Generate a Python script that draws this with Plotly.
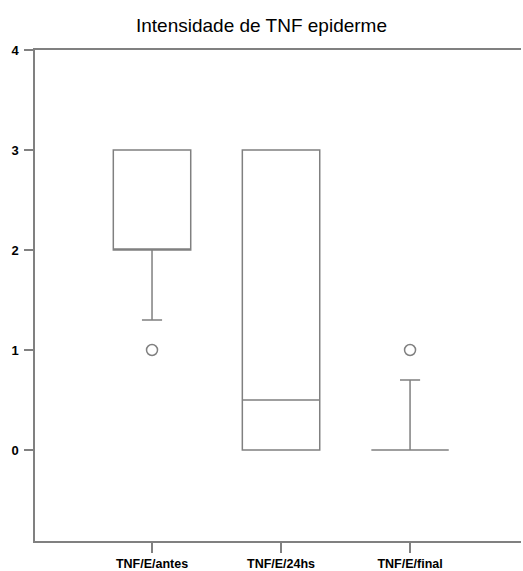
import plotly.graph_objects as go

categories = ["TNF/E/antes", "TNF/E/24hs", "TNF/E/final"]
q1 = [2.0, 0.0, 0.0]
median = [2.0, 0.5, 0.0]
q3 = [3.0, 3.0, 0.0]
lower_whisker = [1.3, 0.0, 0.0]
upper_whisker = [3.0, 3.0, 0.7]
outlier_x = ["TNF/E/antes", "TNF/E/final"]
outlier_y = [1.0, 1.0]
y_ticks = [0, 1, 2, 3, 4]

GRAY = "#808080"
FONT = "Liberation Sans, Arial, sans-serif"

fig = go.Figure()
for i, c in enumerate(categories):
    fig.add_trace(go.Box(
        x=[c], q1=[q1[i]], median=[median[i]], q3=[q3[i]],
        lowerfence=[lower_whisker[i]], upperfence=[upper_whisker[i]],
        boxpoints=False, width=0.6, whiskerwidth=0.26,
        fillcolor="white", line=dict(color=GRAY, width=1.5),
        showlegend=False, hoverinfo="skip",
    ))

fig.add_trace(go.Scatter(
    x=outlier_x, y=outlier_y, mode="markers",
    marker=dict(symbol="circle-open", size=11, color=GRAY, line=dict(width=1.5, color=GRAY)),
    showlegend=False, hoverinfo="skip",
))

fig.update_layout(
    width=523, height=571,
    margin=dict(l=35, r=2, t=50, b=30, autoexpand=False),
    paper_bgcolor="white", plot_bgcolor="white",
    font=dict(family=FONT, color="black"),
    title=dict(text="Intensidade de TNF epiderme", x=0.5, xanchor="center",
               y=1 - 25 / 571, yanchor="middle", yref="container",
               font=dict(size=19, family=FONT, color="black")),
)

fig.update_xaxes(
    type="category", categoryorder="array", categoryarray=categories,
    range=[-0.907, 2.86], showgrid=False, zeroline=False,
    showline=True, linecolor=GRAY, linewidth=1.5, mirror=True,
    ticks="outside", ticklen=10, tickcolor=GRAY, tickwidth=1.5,
    ticklabelstandoff=0,
    tickfont=dict(size=12.5, family=FONT, color="black", weight="bold"),
    automargin=False, fixedrange=True,
)
fig.update_yaxes(
    range=[-0.91, 4], tickvals=y_ticks, ticktext=[str(v) for v in y_ticks],
    showgrid=False, zeroline=False,
    showline=True, linecolor=GRAY, linewidth=1.5, mirror=False,
    ticks="outside", ticklen=9, tickcolor=GRAY, tickwidth=1.5,
    ticklabelstandoff=3,
    tickfont=dict(size=13, family=FONT, color="black", weight="bold"),
    automargin=False, fixedrange=True,
)

fig.write_html(
    "out.html",
    config={"displayModeBar": False},
    post_script="document.body.style.margin='0';document.body.style.overflow='hidden';",
)
